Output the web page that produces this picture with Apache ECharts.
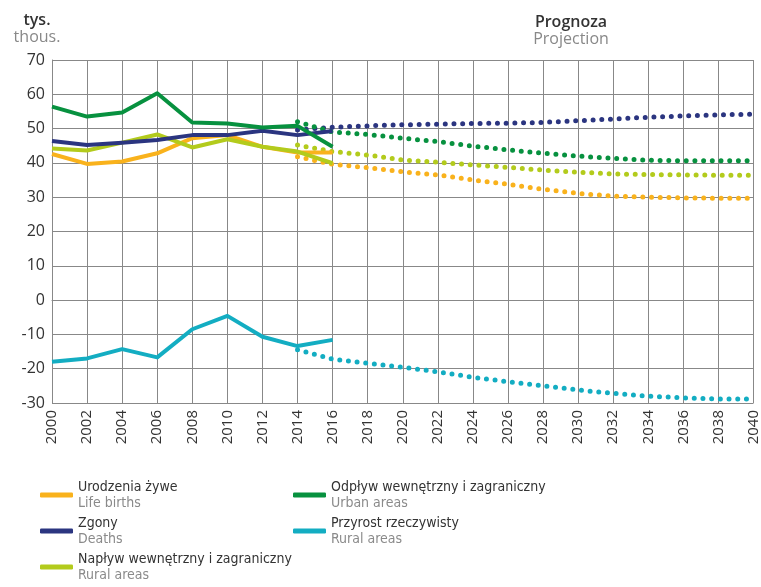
<!DOCTYPE html>
<html>
<head>
<meta charset="utf-8">
<script src="https://cdn.jsdelivr.net/npm/echarts@6/dist/echarts.min.js"></script>
<style>
  html, body { margin: 0; padding: 0; background: #fff; }
  #chart { width: 761px; height: 587px; }
</style>
</head>
<body>
<div id="chart"></div>
<script>
// lata - dane rzeczywiste i prognoza
var yearsActual = [2000, 2002, 2004, 2006, 2008, 2010, 2012, 2014, 2016];
var yearsProj = [2014, 2016, 2018, 2020, 2022, 2024, 2026, 2028, 2030, 2032, 2034, 2036, 2038, 2040];

// dane rzeczywiste (tys.)
var births = [42.6, 39.7, 40.4, 42.8, 47.2, 48.1, 44.7, 43.0, 43.0];
var deaths = [46.4, 45.2, 45.9, 46.7, 48.1, 48.1, 49.4, 48.1, 49.3];
var inflow = [44.2, 43.6, 45.9, 48.3, 44.5, 46.9, 44.7, 43.3, 39.9];
var outflow = [56.4, 53.5, 54.7, 60.3, 51.8, 51.5, 50.3, 50.8, 44.7];
var growth = [-18.0, -17.0, -14.3, -16.7, -8.5, -4.6, -10.7, -13.4, -11.6];

// prognoza
var birthsProj = [41.8, 39.6, 38.6, 37.4, 36.5, 35.0, 33.8, 32.3, 31.1, 30.3, 30.0, 29.8, 29.7, 29.7];
var deathsProj = [49.6, 50.4, 50.8, 51.1, 51.3, 51.5, 51.6, 51.8, 52.3, 52.8, 53.3, 53.7, 54.0, 54.2];
var inflowProj = [45.2, 43.3, 42.3, 40.8, 40.2, 39.4, 38.7, 37.9, 37.3, 36.8, 36.6, 36.5, 36.4, 36.4];
var outflowProj = [52.0, 49.0, 48.3, 47.2, 46.2, 44.9, 43.8, 42.8, 42.0, 41.3, 40.8, 40.6, 40.6, 40.6];
var growthProj = [-14.5, -17.2, -18.4, -19.6, -20.9, -22.5, -23.8, -25.0, -26.2, -27.2, -28.0, -28.5, -28.8, -28.8];

var names = ['Urodzenia żywe', 'Zgony', 'Napływ wewnętrzny i zagraniczny', 'Odpływ wewnętrzny i zagraniczny', 'Przyrost rzeczywisty'];
var namesEn = ['Life births', 'Deaths', 'Rural areas', 'Urban areas', 'Rural areas'];
var colors = ['#f9b21c', '#2b3580', '#b3cb1c', '#07913f', '#13adc2'];

function pairs(xs, ys) {
    return xs.map(function (x, i) { return [x, ys[i]]; });
}

var chart = echarts.init(document.getElementById('chart'));

var actual = [births, deaths, inflow, outflow, growth];
var proj = [birthsProj, deathsProj, inflowProj, outflowProj, growthProj];

var series = [];
// prognoza - linie kropkowane
proj.forEach(function (vals, i) {
    series.push({
        name: names[i] + ' (prognoza)',
        type: 'line',
        data: pairs(yearsProj, vals),
        symbol: 'none',
        silent: true,
        lineStyle: { color: colors[i], width: 5, type: [0, 8.7], cap: 'round' },
        itemStyle: { color: colors[i] },
        z: 2
    });
});
// dane rzeczywiste
var order = [4, 0, 2, 1, 3];
order.forEach(function (i) {
    series.push({
        name: names[i],
        type: 'line',
        data: pairs(yearsActual, actual[i]),
        symbol: 'none',
        lineStyle: { color: colors[i], width: 4, join: 'round' },
        itemStyle: { color: colors[i] },
        z: 3
    });
});

var narrow = '"DejaVu Sans Condensed", "Liberation Sans Narrow", "Noto Sans", sans-serif';
function legendFmt(name) {
    return '{a|' + name + '}\n{b|' + namesEn[names.indexOf(name)] + '}';
}
var legendText = {
    fontFamily: narrow,
    rich: {
        a: { fontSize: 14, color: '#333', lineHeight: 16, fontFamily: narrow },
        b: { fontSize: 14, color: '#8a8a8a', lineHeight: 16, fontFamily: narrow }
    }
};

var option = {
    animation: false,
    title: [
        {
            text: 'tys.', subtext: 'thous.',
            left: 32, top: 7, textAlign: 'center', itemGap: 1,
            textStyle: { fontSize: 16, fontWeight: 600, color: '#333', fontFamily: 'Open Sans' },
            subtextStyle: { fontSize: 16, color: '#888', fontFamily: 'Open Sans' }
        },
        {
            text: 'Prognoza', subtext: 'Projection',
            left: 566, top: 9, textAlign: 'center', itemGap: 1,
            textStyle: { fontSize: 16, fontWeight: 600, color: '#333', fontFamily: 'Open Sans' },
            subtextStyle: { fontSize: 16, color: '#888', fontFamily: 'Open Sans' }
        }
    ],
    legend: [
        {
            data: names.slice(0, 3), orient: 'vertical', left: 35, top: 475, height: 150,
            itemWidth: 33, itemHeight: 5, itemGap: 6, icon: 'roundRect',
            formatter: legendFmt, textStyle: legendText, selectedMode: false
        },
        {
            data: names.slice(3), orient: 'vertical', left: 288, top: 475, height: 150,
            itemWidth: 33, itemHeight: 5, itemGap: 6, icon: 'roundRect',
            formatter: legendFmt, textStyle: legendText, selectedMode: false
        }
    ],
    grid: { left: 52, right: 7, top: 60, bottom: 184, containLabel: false },
    xAxis: {
        type: 'value', min: 2000, max: 2040, interval: 2,
        axisLine: { show: true, lineStyle: { color: '#888', width: 1 } },
        axisTick: { show: false },
        splitLine: { show: true, lineStyle: { color: '#888', width: 1 } },
        axisLabel: {
            rotate: 90, fontSize: 15, color: '#333', fontFamily: 'Open Sans', margin: 7,
            formatter: function (v) { return String(v); }
        }
    },
    yAxis: {
        type: 'value', min: -30, max: 70, interval: 10,
        axisLine: { show: true, lineStyle: { color: '#888', width: 1 } },
        axisTick: { show: false },
        splitLine: { show: true, lineStyle: { color: '#888', width: 1 } },
        axisLabel: { fontSize: 16, color: '#333', fontFamily: 'Open Sans', margin: 7 }
    },
    series: series
};

chart.setOption(option);
</script>
</body>
</html>
